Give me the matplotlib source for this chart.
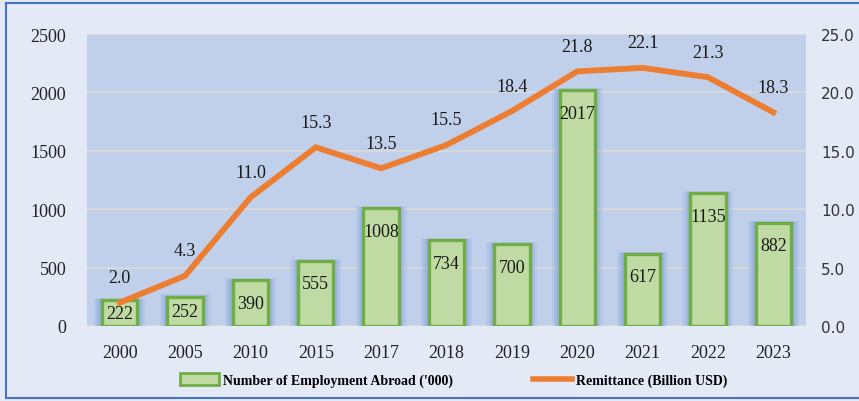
import numpy as np
import matplotlib.pyplot as plt
from matplotlib.lines import Line2D
from matplotlib.patches import Patch

# Donnees
years = ['2000', '2005', '2010', '2015', '2017', '2018', '2019', '2020', '2021', '2022', '2023']
employment = [222, 252, 390, 555, 1008, 734, 700, 2017, 617, 1135, 882]
remittance = [2.0, 4.3, 11.0, 15.3, 13.5, 15.5, 18.4, 21.8, 22.1, 21.3, 18.3]

serif = 'Liberation Serif'
fig = plt.figure(figsize=(8.59, 4.02), dpi=100)
fig.patch.set_facecolor('#E4E9F6')
ax = fig.add_axes([0.1013, 0.1866, 0.8370, 0.7263])
ax.set_facecolor('#C1D0EA')
ax2 = ax.twinx()

x = np.arange(len(years))
w = 0.54

# halo bleu autour des barres
for extra, a in [(0.24, 0.22), (0.17, 0.32), (0.11, 0.45), (0.06, 0.6)]:
    ax.bar(x, np.array(employment) + extra * 75, width=w + extra, color='#8EA9DB',
           alpha=a, linewidth=0, zorder=2)
ax.bar(x, employment, width=w, color='#BFDBA3', edgecolor='#70AD47', linewidth=2.4, zorder=3)

for xi, v in zip(x, employment):
    ax.text(xi, max(v - 195, v / 2), str(v), ha='center', va='center',
            fontsize=13, family=serif, color='#1a1a1a', zorder=6)

ax.set_ylim(0, 2500)
ax.set_xlim(-0.5, len(years) - 0.5)
ax.set_yticks(np.arange(0, 2501, 500))
ax.yaxis.grid(True, color='#D9D9D9', linewidth=1.3, zorder=1)
ax.set_axisbelow(True)
ax.set_xticks(x)
ax.set_xticklabels(years)
ax.tick_params(length=0, labelsize=13, colors='#222222')
ax.tick_params(axis='y', pad=15)
ax.tick_params(axis='x', pad=13)
for lab in ax.get_xticklabels() + ax.get_yticklabels():
    lab.set_family(serif)
for s in ax.spines.values():
    s.set_visible(False)

ax2.plot(x, remittance, color='#ED7D31', linewidth=4.2, solid_joinstyle='miter', zorder=5)
for xi, v in zip(x, remittance):
    ax2.annotate(f'{v:.1f}', (xi, v), xytext=(0, 18), textcoords='offset points',
                 ha='center', va='center', fontsize=13, family=serif, color='#1a1a1a')
ax2.set_ylim(0, 25)
ax2.set_yticks(np.arange(0, 25.1, 5))
ax2.set_yticklabels([f'{t:.1f}' for t in np.arange(0, 25.1, 5)])
ax2.tick_params(length=0, labelsize=11, colors='#333333', pad=11)
for s in ax2.spines.values():
    s.set_visible(False)

handles = [Patch(facecolor='#BFDBA3', edgecolor='#70AD47', linewidth=2),
           Line2D([0], [0], color='#ED7D31', linewidth=4)]
leg = fig.legend(handles, ["Number of Employment Abroad ('000)", 'Remittance (Billion USD)'],
                 loc='center', bbox_to_anchor=(0.528, 0.052), ncol=2, frameon=False,
                 prop={'family': serif, 'weight': 'bold', 'size': 10},
                 handlelength=2.8, handleheight=1.0, handletextpad=0.25, columnspacing=5.8)

# cadre bleu
fig.add_artist(Line2D([6 / 859, 6 / 859], [3 / 402, 398 / 402], color='#4472C4', linewidth=1.5))
fig.add_artist(Line2D([6 / 859, 1], [398 / 402, 398 / 402], color='#4472C4', linewidth=1.5))
fig.add_artist(Line2D([6 / 859, 1], [3 / 402, 3 / 402], color='#4472C4', linewidth=1.5))

fig.savefig('out.png', dpi=100, facecolor=fig.get_facecolor())
